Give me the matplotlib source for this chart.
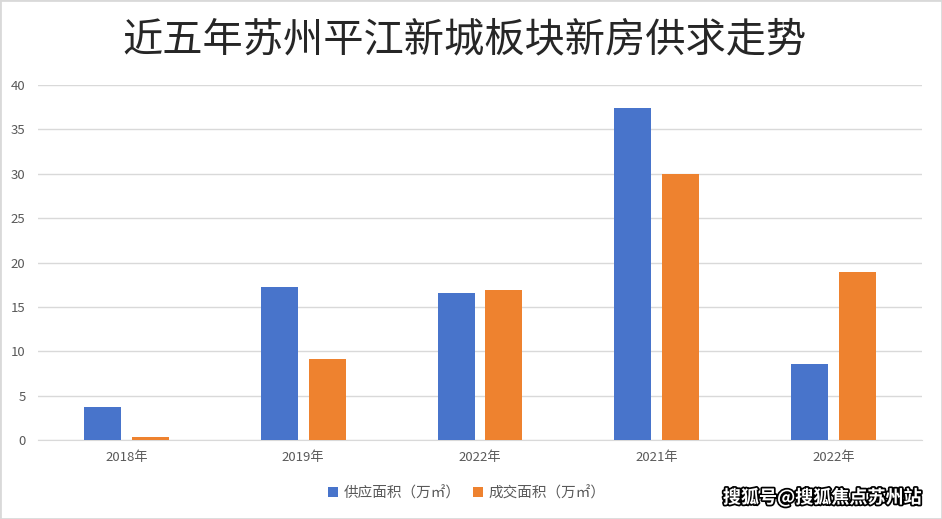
import matplotlib.pyplot as plt
import matplotlib.patheffects as pe
import numpy as np

plt.rcParams['font.family'] = ['Noto Sans CJK SC', 'DejaVu Sans']

# ─── Data ───────────────────────────────────────────────────────────────────
years = ["2018年", "2019年", "2022年", "2021年", "2022年"]
supply = [3.7, 17.2, 16.6, 37.4, 8.6]
deal = [0.3, 9.1, 16.9, 30.0, 18.9]
yticks = [0, 5, 10, 15, 20, 25, 30, 35, 40]

BLUE = "#4874cb"
ORANGE = "#ee822f"
GRID = "#d9d9d9"
TXT = "#595959"

fig = plt.figure(figsize=(9.42, 5.19), dpi=100)
ax = fig.add_axes([38 / 942, 1 - 440 / 519, 884 / 942, 355 / 519])

x = np.arange(len(years))
w = 0.21
ax.bar(x - 0.135, supply, width=w, color=BLUE, label="供应面积（万㎡）", zorder=3)
ax.bar(x + 0.135, deal, width=w, color=ORANGE, label="成交面积（万㎡）", zorder=3)

ax.set_xlim(-0.5, len(years) - 0.5)
ax.set_ylim(0, 40)
ax.set_yticks(yticks)
ax.set_xticks(x)
ax.set_xticklabels(years)
ax.yaxis.grid(True, color=GRID, lw=1, zorder=0)
ax.tick_params(axis="both", length=0, labelsize=9.5, colors=TXT)
ax.tick_params(axis="y", pad=9)
ax.tick_params(axis="x", pad=8)
for s in ["top", "right", "left"]:
    ax.spines[s].set_visible(False)
ax.spines["bottom"].set_color(GRID)

fig.text(465 / 942, 1 - 40 / 519, "近五年苏州平江新城板块新房供求走势", ha="center", va="center",
         fontsize=29, color="#262626")

ax.legend(loc="center", bbox_to_anchor=(467 / 942, 1 - 493 / 519), bbox_transform=fig.transFigure,
          ncol=2, frameon=False, fontsize=10.5, labelcolor=TXT, handlelength=0.7, handleheight=0.7,
          handletextpad=0.4, columnspacing=0.8)

fig.text(921 / 942, 1 - 498 / 519, "搜狐号@搜狐焦点苏州站", ha="right", va="center", fontsize=13,
         fontweight="bold", color="white",
         path_effects=[pe.withStroke(linewidth=2.5, foreground="black")])

fig.patches.append(plt.Rectangle((0, 0), 1, 1, transform=fig.transFigure, fill=False,
                                 edgecolor="#d9d9d9", lw=2))

fig.savefig("out.png", dpi=100)
